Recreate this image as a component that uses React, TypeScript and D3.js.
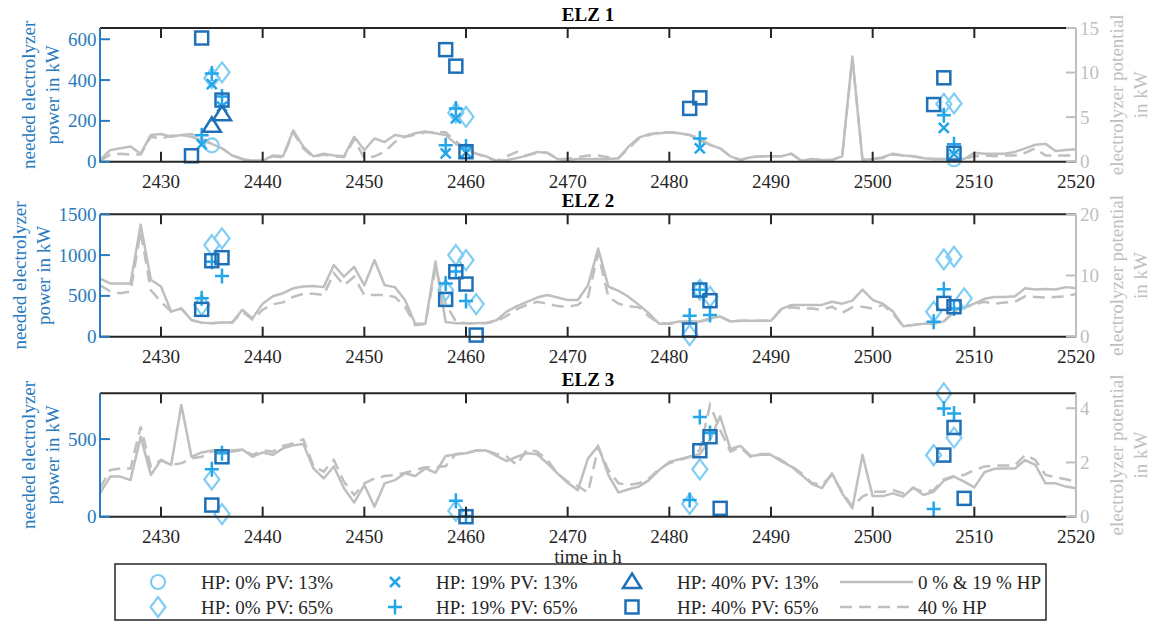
import React from 'react';
import * as d3 from 'd3';

// hourly electrolyzer potential (right axis, kW), hours 2424..2520
const hours = d3.range(2424, 2521);

const elz1Solid = [0.2, 1.3, 1.5, 1.7, 0.9, 3.0, 3.1, 2.8, 3.0, 2.8, 2.4, 2.0, 1.5, 0.7, 0.3, 0.1, 0.1, 0.7, 0.6, 3.5, 1.7, 0.6, 0.9, 0.7, 0.6, 2.8, 1.3, 2.6, 2.2, 3.0, 2.8, 3.2, 3.4, 3.2, 3.0, 2.0, 1.4, 0.9, 0.6, 0.1, 0.2, 0.4, 0.7, 1.1, 1.0, 0.3, 0.2, 0.3, 0.3, 0.3, 0.3, 0.4, 1.7, 2.7, 3.1, 3.2, 3.3, 3.2, 3.0, 2.4, 1.9, 1.5, 0.6, 0.2, 0.5, 0.6, 0.6, 0.6, 0.9, 0.1, 0.3, 0.2, 0.2, 0.6, 11.8, 0.2, 0.3, 0.5, 0.9, 0.7, 0.6, 0.4, 0.3, 0.3, 0.3, 0.3, 1.0, 0.9, 0.9, 0.9, 1.1, 1.5, 1.9, 2.0, 1.2, 1.3, 1.4];
const elz1Dashed = [0.1, 0.8, 0.9, 0.8, 0.8, 2.8, 2.6, 2.9, 3.0, 3.1, 2.6, 2.0, 1.5, 0.7, 0.3, 0.1, 0.1, 0.6, 0.5, 3.3, 1.5, 0.5, 0.8, 0.6, 0.5, 2.5, 0.4, 0.6, 1.1, 2.2, 2.8, 3.0, 3.3, 3.3, 3.3, 2.3, 1.4, 0.9, 0.5, 0.1, 0.6, 1.1, 0.7, 1.0, 1.0, 0.3, 0.3, 0.5, 0.7, 0.7, 0.5, 0.4, 1.5, 2.6, 3.0, 3.3, 3.3, 3.2, 3.0, 2.6, 1.9, 1.5, 0.6, 0.2, 0.5, 0.6, 0.6, 0.6, 0.9, 0.1, 0.3, 0.2, 0.2, 0.6, 11.6, 0.2, 0.3, 0.4, 0.8, 0.7, 0.6, 0.4, 0.3, 0.3, 0.3, 0.3, 0.6, 0.7, 0.6, 0.7, 0.7, 1.0, 1.5, 0.7, 0.7, 0.7, 0.7];

const elz2Solid = [9.5, 8.7, 8.7, 8.7, 18.3, 9.3, 8.2, 4.1, 4.6, 2.7, 2.3, 2.2, 2.3, 2.3, 4.4, 3.0, 5.4, 6.6, 7.1, 7.9, 8.2, 8.3, 8.1, 11.7, 9.8, 11.4, 8.4, 12.5, 8.4, 8.1, 6.0, 2.1, 2.1, 12.3, 2.4, 2.2, 2.2, 2.2, 2.3, 2.7, 4.1, 5.0, 5.7, 6.4, 6.8, 6.4, 6.0, 6.0, 8.4, 14.4, 8.2, 7.5, 6.5, 5.2, 3.8, 2.1, 2.2, 2.5, 2.5, 2.5, 3.0, 3.3, 2.5, 2.6, 2.6, 2.6, 2.6, 4.5, 5.2, 5.2, 5.2, 5.2, 5.7, 5.4, 5.9, 7.7, 6.0, 5.4, 4.1, 1.7, 1.9, 2.1, 2.1, 2.5, 4.1, 4.8, 5.4, 6.2, 6.5, 6.5, 6.6, 7.9, 7.7, 7.8, 7.7, 8.1, 7.9];
const elz2Dashed = [8.4, 7.4, 7.1, 7.4, 17.2, 7.6, 5.7, 4.1, 4.6, 2.7, 2.3, 2.2, 2.3, 2.3, 4.1, 2.8, 4.4, 5.3, 5.6, 6.5, 7.0, 7.0, 6.8, 10.4, 8.4, 9.8, 6.8, 6.8, 6.8, 6.5, 4.9, 1.9, 2.1, 11.2, 5.4, 2.5, 2.2, 2.2, 2.2, 2.5, 3.4, 4.5, 5.2, 5.7, 5.4, 5.0, 4.9, 5.2, 6.5, 13.6, 6.5, 5.4, 5.0, 4.8, 3.3, 2.2, 2.1, 2.3, 2.5, 2.5, 2.8, 3.3, 2.5, 2.6, 2.6, 2.6, 2.6, 4.4, 4.8, 4.6, 4.6, 4.4, 4.9, 3.9, 4.8, 4.9, 4.6, 5.2, 3.8, 1.7, 1.9, 2.2, 2.3, 2.5, 4.0, 4.7, 5.3, 5.7, 5.4, 5.6, 5.7, 6.6, 6.5, 6.4, 6.5, 6.6, 7.0];

const elz3Solid = [0.86, 1.48, 1.48, 1.35, 2.95, 1.54, 2.09, 1.91, 4.12, 2.21, 2.37, 2.44, 2.4, 2.44, 2.48, 2.21, 2.37, 2.28, 2.52, 2.63, 2.68, 1.78, 1.41, 1.85, 1.05, 0.52, 1.17, 0.37, 1.23, 1.35, 1.6, 1.5, 1.78, 1.62, 2.24, 2.29, 2.34, 2.44, 2.44, 2.24, 2.05, 2.21, 2.34, 2.3, 1.97, 1.6, 1.25, 0.98, 2.15, 2.61, 1.54, 0.89, 1.01, 1.11, 1.35, 1.72, 2.02, 2.12, 2.21, 2.3, 2.83, 3.7, 2.5, 2.61, 2.24, 2.28, 2.28, 2.05, 1.85, 1.54, 1.21, 1.05, 1.6, 0.86, 0.31, 2.28, 0.76, 0.76, 0.86, 0.74, 1.08, 0.8, 0.92, 1.33, 1.48, 1.29, 1.08, 1.64, 1.77, 1.78, 1.78, 2.09, 1.91, 1.23, 1.23, 1.11, 1.05];
const elz3Dashed = [1.05, 1.72, 1.78, 1.78, 3.32, 1.85, 2.09, 1.91, 1.97, 2.15, 2.21, 2.4, 2.44, 2.4, 2.46, 2.28, 2.44, 2.4, 2.61, 2.7, 2.85, 1.87, 1.66, 2.09, 1.29, 0.8, 1.23, 1.41, 1.5, 1.54, 1.62, 1.72, 1.82, 1.82, 1.87, 2.31, 2.34, 2.44, 2.44, 2.31, 2.21, 1.91, 2.48, 2.4, 2.09, 1.6, 1.29, 1.13, 0.89, 2.56, 1.72, 1.23, 1.17, 1.23, 1.41, 1.75, 1.97, 2.09, 2.21, 2.46, 4.12, 3.2, 2.4, 2.56, 2.21, 2.31, 2.31, 2.09, 1.87, 1.6, 1.25, 1.17, 1.54, 0.92, 0.37, 0.74, 0.92, 0.92, 0.98, 0.86, 1.05, 0.92, 0.98, 1.38, 1.5, 1.54, 1.72, 1.85, 1.89, 1.89, 1.89, 2.28, 2.09, 1.54, 1.45, 1.38, 1.29];

// needed electrolyzer power (left axis, kW): [hour, kW]
const elz1Hp0Pv13 = [[2435, 80], [2508, 12]];
const elz1Hp0Pv65 = [[2435, 410], [2436, 438], [2459, 240], [2460, 220], [2507, 283], [2508, 285]];
const elz1Hp19Pv13 = [[2434, 85], [2435, 380], [2436, 270], [2458, 41], [2459, 212], [2460, 45], [2483, 65], [2507, 166], [2508, 37]];
const elz1Hp19Pv65 = [[2434, 130], [2435, 432], [2436, 320], [2458, 81], [2459, 261], [2460, 75], [2483, 114], [2507, 228], [2508, 86]];
const elz1Hp40Pv13 = [[2435, 176], [2436, 232]];
const elz1Hp40Pv65 = [[2433, 29], [2434, 606], [2436, 302], [2458, 549], [2459, 468], [2460, 49], [2482, 261], [2483, 313], [2506, 280], [2507, 411], [2508, 41]];

const elz2Hp0Pv65 = [[2434, 390], [2435, 1123], [2436, 1205], [2458, 571], [2459, 1000], [2460, 939], [2461, 400], [2482, 20], [2483, 575], [2484, 490], [2506, 306], [2507, 947], [2508, 980], [2509, 470]];
const elz2Hp19Pv65 = [[2434, 470], [2435, 920], [2436, 743], [2458, 653], [2459, 800], [2460, 437], [2482, 257], [2483, 575], [2484, 265], [2506, 184], [2507, 580], [2508, 347]];
const elz2Hp40Pv65 = [[2434, 335], [2435, 931], [2436, 968], [2458, 457], [2459, 796], [2460, 645], [2461, 20], [2482, 82], [2483, 572], [2484, 441], [2507, 408], [2508, 367]];

const elz3Hp0Pv65 = [[2435, 240], [2436, 17], [2459, 39], [2482, 82], [2483, 305], [2506, 397], [2507, 794], [2508, 510]];
const elz3Hp19Pv65 = [[2435, 305], [2436, 408], [2459, 103], [2460, 5], [2482, 107], [2483, 643], [2484, 540], [2506, 49], [2507, 697], [2508, 665]];
const elz3Hp40Pv65 = [[2435, 75], [2436, 386], [2460, 0], [2483, 425], [2484, 515], [2485, 54], [2507, 397], [2508, 575], [2509, 118]];

const xTicks = [2430, 2440, 2450, 2460, 2470, 2480, 2490, 2500, 2510, 2520];

const LIGHT = '#80cdf4';
const MID = '#23a5e9';
const DARK = '#1f70b7';
const AXBLUE = '#2a7bbd';
const GREY = '#bfbfbf';
const INK = '#262626';
const FONT = "'Liberation Serif', 'Times New Roman', Times, 'Nimbus Roman', 'Nimbus Roman No9 L', FreeSerif, 'Noto Serif', 'DejaVu Serif', serif";

const seriesInfo = [
  { key: 'hp0pv13', label: 'HP: 0% PV: 13%', kind: 'circle', color: LIGHT },
  { key: 'hp0pv65', label: 'HP: 0% PV: 65%', kind: 'diamond', color: LIGHT },
  { key: 'hp19pv13', label: 'HP: 19% PV: 13%', kind: 'x', color: MID },
  { key: 'hp19pv65', label: 'HP: 19% PV: 65%', kind: 'plus', color: MID },
  { key: 'hp40pv13', label: 'HP: 40% PV: 13%', kind: 'triangle', color: DARK },
  { key: 'hp40pv65', label: 'HP: 40% PV: 65%', kind: 'square', color: DARK },
];

const panels = [
  {
    title: 'ELZ 1', top: 28, bottom: 161.7, leftMax: 655, leftTicks: [0, 200, 400, 600],
    rightMax: 15, rightTicks: [0, 5, 10, 15], solid: elz1Solid, dashed: elz1Dashed, labelX: [28, 52],
    points: { hp0pv13: elz1Hp0Pv13, hp0pv65: elz1Hp0Pv65, hp19pv13: elz1Hp19Pv13, hp19pv65: elz1Hp19Pv65, hp40pv13: elz1Hp40Pv13, hp40pv65: elz1Hp40Pv65 },
  },
  {
    title: 'ELZ 2', top: 214.3, bottom: 336.7, leftMax: 1500, leftTicks: [0, 500, 1000, 1500],
    rightMax: 20, rightTicks: [0, 10, 20], solid: elz2Solid, dashed: elz2Dashed, labelX: [19, 43],
    points: { hp0pv65: elz2Hp0Pv65, hp19pv65: elz2Hp19Pv65, hp40pv65: elz2Hp40Pv65 },
  },
  {
    title: 'ELZ 3', top: 393.3, bottom: 516.7, leftMax: 795, leftTicks: [0, 500],
    rightMax: 4.55, rightTicks: [0, 2, 4], solid: elz3Solid, dashed: elz3Dashed, labelX: [28, 52],
    points: { hp0pv65: elz3Hp0Pv65, hp19pv65: elz3Hp19Pv65, hp40pv65: elz3Hp40Pv65 },
  },
];

const X0 = 100;
const X1 = 1076;
const x = d3.scaleLinear().domain([2424, 2520]).range([X0, X1]);
const txt = { fontFamily: FONT, fontSize: 19 };

function Marker({ kind, cx, cy, color }) {
  const common = { fill: 'none', stroke: color, strokeWidth: 2.2 };
  switch (kind) {
    case 'circle':
      return <circle cx={cx} cy={cy} r={7} {...common} />;
    case 'diamond':
      return <path d={`M${cx},${cy - 10}L${cx + 7.5},${cy}L${cx},${cy + 10}L${cx - 7.5},${cy}Z`} {...common} />;
    case 'x':
      return <path d={`M${cx - 5},${cy - 5}L${cx + 5},${cy + 5}M${cx + 5},${cy - 5}L${cx - 5},${cy + 5}`} {...common} strokeWidth={2.5} />;
    case 'plus':
      return <path d={`M${cx - 7},${cy}L${cx + 7},${cy}M${cx},${cy - 7.5}L${cx},${cy + 7.5}`} {...common} strokeWidth={2.5} />;
    case 'triangle':
      return <path d={`M${cx},${cy - 8.5}L${cx + 9},${cy + 6}L${cx - 9},${cy + 6}Z`} {...common} strokeWidth={2.5} />;
    default:
      return <rect x={cx - 6.5} y={cy - 6.5} width={13} height={13} {...common} strokeWidth={2.5} />;
  }
}

function Panel({ p }) {
  const yL = d3.scaleLinear().domain([0, p.leftMax]).range([p.bottom, p.top]);
  const yR = d3.scaleLinear().domain([0, p.rightMax]).range([p.bottom, p.top]);
  const line = d3.line<number>().x((_, i) => x(hours[i])).y((d) => yR(d));
  const midY = (p.top + p.bottom) / 2;
  const tick = 10;
  return (
    <g>
      <path d={line(p.dashed) || ''} fill="none" stroke={GREY} strokeWidth={2.5} strokeDasharray="12,7" />
      <path d={line(p.solid) || ''} fill="none" stroke={GREY} strokeWidth={2.5} strokeLinejoin="round" />
      {seriesInfo.map((s) =>
        (p.points[s.key] || []).map(([h, v], i) => (
          <Marker key={s.key + i} kind={s.kind} cx={x(h)} cy={yL(v)} color={s.color} />
        ))
      )}
      <line x1={X0} x2={X1} y1={p.top} y2={p.top} stroke={INK} strokeWidth={2} />
      <line x1={X0} x2={X1} y1={p.bottom} y2={p.bottom} stroke={INK} strokeWidth={2} />
      {xTicks.map((t) => (
        <g key={t}>
          {t < 2520 && <line x1={x(t)} x2={x(t)} y1={p.top} y2={p.top + tick} stroke={INK} strokeWidth={2} />}
          {t < 2520 && <line x1={x(t)} x2={x(t)} y1={p.bottom} y2={p.bottom - tick} stroke={INK} strokeWidth={2} />}
          <text x={x(t)} y={p.bottom + 26.5} textAnchor="middle" style={txt} fill={INK}>{t}</text>
        </g>
      ))}
      <line x1={X0} x2={X0} y1={p.top} y2={p.bottom + 1} stroke={AXBLUE} strokeWidth={2} />
      {p.leftTicks.map((t) => (
        <g key={t}>
          <line x1={X0} x2={X0 + tick} y1={yL(t)} y2={yL(t)} stroke={AXBLUE} strokeWidth={2} />
          <text x={96.5} y={yL(t) + 6.5} textAnchor="end" style={txt} fill={AXBLUE}>{t}</text>
        </g>
      ))}
      <text transform={`translate(${p.labelX[0]},${midY}) rotate(-90)`} textAnchor="middle" dominantBaseline="central" style={txt} fill={AXBLUE}>needed electrolyzer</text>
      <text transform={`translate(${p.labelX[1]},${midY}) rotate(-90)`} textAnchor="middle" dominantBaseline="central" style={txt} fill={AXBLUE}>power in kW</text>
      <line x1={X1} x2={X1} y1={p.top} y2={p.bottom + 1} stroke={GREY} strokeWidth={2} />
      {p.rightTicks.map((t) => (
        <g key={t}>
          <line x1={X1} x2={X1 - tick} y1={yR(t)} y2={yR(t)} stroke={GREY} strokeWidth={2} />
          <text x={1080} y={yR(t) + 6.5} textAnchor="start" style={txt} fill={GREY}>{t}</text>
        </g>
      ))}
      <text transform={`translate(1116,${midY}) rotate(-90)`} textAnchor="middle" dominantBaseline="central" style={txt} fill={GREY}>electrolyzer potential</text>
      <text transform={`translate(1140,${midY}) rotate(-90)`} textAnchor="middle" dominantBaseline="central" style={txt} fill={GREY}>in kW</text>
      <text x={588} y={p.top - 7} textAnchor="middle" style={{ ...txt, fontWeight: 'bold' }} fill="#000">{p.title}</text>
    </g>
  );
}

function Legend() {
  const rows = [582, 607];
  const markX = [158, 395, 632];
  const textX = [201, 436, 677];
  return (
    <g>
      <rect x={115} y={564} width={931} height={56} fill="#fff" stroke={INK} strokeWidth={1.5} />
      {seriesInfo.map((s, i) => {
        const col = Math.floor(i / 2);
        const row = i % 2;
        return (
          <g key={s.key}>
            <Marker kind={s.kind} cx={markX[col]} cy={rows[row]} color={s.color} />
            <text x={textX[col]} y={rows[row] + 6.5} style={txt} fill={INK}>{s.label}</text>
          </g>
        );
      })}
      <line x1={840} x2={913} y1={rows[0]} y2={rows[0]} stroke={GREY} strokeWidth={2.5} />
      <text x={918} y={rows[0] + 6.5} style={txt} fill={INK}>{'0 % & 19 % HP'}</text>
      <line x1={840} x2={913} y1={rows[1]} y2={rows[1]} stroke={GREY} strokeWidth={2.5} strokeDasharray="12,7" />
      <text x={918} y={rows[1] + 6.5} style={txt} fill={INK}>40 % HP</text>
    </g>
  );
}

export default function App() {
  return (
    <svg width={1156} height={622} style={{ position: 'absolute', left: 0, top: 0, background: '#fff', fontFamily: FONT }}>
      <rect width={1156} height={622} fill="#fff" />
      {panels.map((p) => (
        <Panel key={p.title} p={p} />
      ))}
      <text x={588} y={563} textAnchor="middle" style={txt} fill={INK}>time in h</text>
      <Legend />
    </svg>
  );
}
